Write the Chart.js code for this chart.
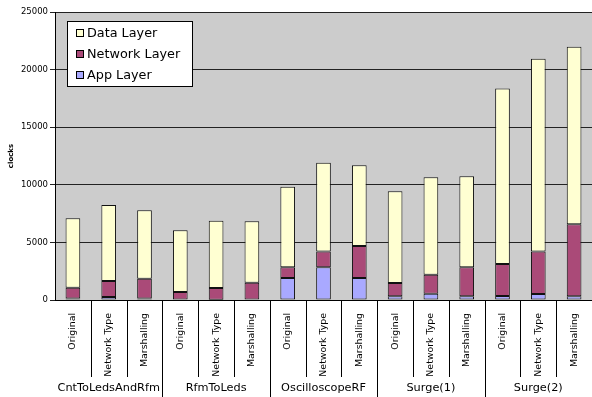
<!DOCTYPE html>
<html>
<head>
<meta charset="utf-8">
<script src="https://cdn.jsdelivr.net/npm/chart.js@4.4.0/dist/chart.umd.min.js"></script>
<style>
  html, body { margin: 0; padding: 0; background: #fff; }
  #wrap { width: 592px; height: 397px; }
</style>
</head>
<body>
<div id="wrap"><canvas id="clocksChart"></canvas></div>
<script>
// categories
const groups = ['CntToLedsAndRfm', 'RfmToLeds', 'OscilloscopeRF', 'Surge(1)', 'Surge(2)'];
const variants = ['Original', 'Network Type', 'Marshalling'];

// series (clocks), stacked: app at bottom, then network, then data
const appLayer     = [120, 270, 120,    0,   20,    0, 1910, 2840, 1910,  320,  550,  320,   350,   520,   320];
const networkLayer = [950, 1380, 1730, 700, 1020, 1500,  930, 1380, 2780, 1150, 1650, 2520,  2775,  3680,  6250];
const dataLayer    = [6030, 6600, 5930, 5350, 5840, 5330, 7000, 7700, 7000, 7960, 8450, 7900, 15225, 16750, 15420];

const yTicks = [0, 5000, 10000, 15000, 20000, 25000];

const labels = groups.flatMap(() => variants);
const font = 'DejaVu Sans';

const colApp = '#a9a9ff', colNet = '#aa4a78', colData = '#ffffd2';

const excelLook = {
  id: 'excelLook',
  beforeDraw(chart) {
    const { ctx, chartArea: a } = chart;
    ctx.save();
    ctx.fillStyle = '#cccccc';
    ctx.fillRect(a.left, a.top, a.right - a.left, a.bottom - a.top);
    ctx.restore();
  },
  afterDraw(chart) {
    const { ctx, chartArea: a } = chart;
    const x = chart.scales.x;
    const half = (x.getPixelForValue(1) - x.getPixelForValue(0)) / 2;
    ctx.save();
    // separators between categories
    ctx.strokeStyle = '#000';
    ctx.lineWidth = 1;
    for (let i = 1; i <= labels.length; i++) {
      const px = Math.round(x.getPixelForValue(i) - half) + 0.5;
      const bottom = (i % 3 === 0) ? chart.height : 377;
      ctx.beginPath();
      ctx.moveTo(px, a.bottom);
      ctx.lineTo(px, bottom);
      ctx.stroke();
    }
    // group labels
    ctx.fillStyle = '#000';
    ctx.font = '11.3px ' + font;
    ctx.textAlign = 'center';
    ctx.textBaseline = 'middle';
    groups.forEach((g, k) => {
      const cx = x.getPixelForValue(k * 3 + 1);
      ctx.fillText(g, cx, 388);
    });
    // legend box
    const lx = 67, ly = 21, lw = 125, lh = 65;
    ctx.fillStyle = '#fff';
    ctx.fillRect(lx, ly, lw, lh);
    ctx.strokeStyle = '#000';
    ctx.strokeRect(lx + 0.5, ly + 0.5, lw, lh);
    const items = [['Data Layer', colData], ['Network Layer', colNet], ['App Layer', colApp]];
    ctx.font = '12.8px ' + font;
    ctx.textAlign = 'left';
    items.forEach(([t, c], k) => {
      const yy = ly + 12 + k * 21;
      ctx.fillStyle = c;
      ctx.fillRect(76, yy - 4, 8, 8);
      ctx.strokeStyle = '#000';
      ctx.strokeRect(76.5, yy - 3.5, 7, 7);
      ctx.fillStyle = '#000';
      ctx.fillText(t, 87, yy + 1);
    });
    ctx.restore();
  }
};

const ds = (label, data, color) => ({
  label, data,
  backgroundColor: color,
  borderColor: '#111',
  borderWidth: 1,
  borderSkipped: false,
  categoryPercentage: 1,
  barPercentage: 0.41
});

new Chart('clocksChart', {
  type: 'bar',
  data: {
    labels: labels,
    datasets: [
      ds('App Layer', appLayer, colApp),
      ds('Network Layer', networkLayer, colNet),
      ds('Data Layer', dataLayer, colData)
    ]
  },
  options: {
    responsive: true,
    maintainAspectRatio: false,
    animation: false,
    layout: { padding: { top: 12, right: 0, bottom: 20, left: 0 } },
    plugins: {
      legend: { display: false },
      tooltip: { enabled: false }
    },
    scales: {
      x: {
        stacked: true,
        grid: { display: false },
        border: { color: '#000', width: 1 },
        ticks: {
          color: '#000',
          font: { family: font, size: 9.4 },
          minRotation: 90,
          maxRotation: 90,
          autoSkip: false,
          padding: 5
        },
        afterFit(s) { s.height = 77; }
      },
      y: {
        stacked: true,
        min: 0,
        max: 25000,
        afterBuildTicks(s) { s.ticks = yTicks.map(v => ({ value: v })); },
        grid: { color: '#222', tickLength: 5, drawTicks: true },
        border: { color: '#000', width: 1 },
        ticks: {
          color: '#000',
          font: { family: font, size: 8.5 },
          padding: 2,
          callback: v => String(v)
        },
        title: {
          display: true,
          text: 'clocks',
          color: '#000',
          font: { family: font, size: 7, weight: 'bold' },
          padding: { top: 7, bottom: 0 }
        },
        afterFit(s) { s.width = 55; }
      }
    }
  },
  plugins: [excelLook]
});
</script>
</body>
</html>
